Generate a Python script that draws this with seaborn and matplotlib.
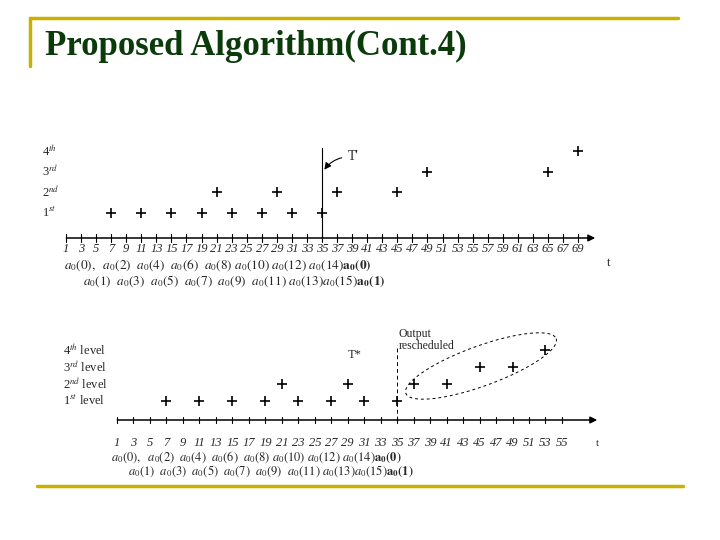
import matplotlib
matplotlib.use("Agg")
import matplotlib.pyplot as plt
import seaborn as sns
import numpy as np
import pandas as pd

sns.set_style("white")
plt.rcParams['font.family'] = ['Liberation Serif', 'DejaVu Serif']
plt.rcParams['mathtext.fontset'] = 'stix'

# data
top_t = [7, 11, 15, 19, 23, 27, 31, 35, 21, 29, 37, 45, 49, 65, 69]
top_level = [1, 1, 1, 1, 1, 1, 1, 1, 2, 2, 2, 2, 3, 3, 4]
top_ticks = list(range(1, 70, 2))
top_level_labels = ["1$^{st}$", "2$^{nd}$", "3$^{rd}$", "4$^{th}$"]

bot_t = [7, 11, 15, 19, 23, 27, 31, 35, 21, 29, 37, 41, 45, 49, 53]
bot_level = [1, 1, 1, 1, 1, 1, 1, 1, 2, 2, 2, 2, 3, 3, 4]
bot_ticks = list(range(1, 56, 2))
bot_level_labels = ["1$^{st}$ level", "2$^{nd}$ level", "3$^{rd}$ level", "4$^{th}$ level"]

row1 = r"$a_0(0),\ \ a_0(2)\ \ a_0(4)\ \ a_0(6)\ \ a_0(8)\ a_0(10)\ a_0(12)\ a_0(14)\mathbf{a_0(0)}$"
row2 = r"$a_0(1)\ \ a_0(3)\ \ a_0(5)\ \ a_0(7)\ \ a_0(9)\ \ a_0(11)\ a_0(13)a_0(15)\mathbf{a_0(1)}$"

W, H = 720, 540
fig = plt.figure(figsize=(7.2, 5.4), dpi=100)

def fig_ax(x0, y0, x1, y1):
    return fig.add_axes([x0 / W, 1 - y1 / H, (x1 - x0) / W, (y1 - y0) / H])

# slide frame
frame = fig.add_axes([0, 0, 1, 1]); frame.set_xlim(0, W); frame.set_ylim(H, 0); frame.axis('off')
gold = "#C9B100"
frame.plot([30, 678], [18, 18], color=gold, lw=2.5)
frame.plot([30, 30], [18, 66], color=gold, lw=2.5)
frame.plot([37, 683], [486, 486], color=gold, lw=2.5)
frame.text(45, 46, "Proposed Algorithm(Cont.4)", fontsize=25, fontweight='bold', color='#0B3B0B', va='center')

def draw(axpx, x_px0, scale, lvl_px1, lvl_sp, axis_py, ts, lv, ticks, lab, arrow_end, labx):
    x0, y0, x1, y1 = axpx
    ax = fig_ax(*axpx)
    ax.set_xlim(1 + (x0 - x_px0) / scale, 1 + (x1 - x_px0) / scale)
    ax.set_ylim(1 - (y1 - lvl_px1) / lvl_sp, 1 + (lvl_px1 - y0) / lvl_sp)
    ax.axis('off')
    df = pd.DataFrame({"t": ts, "level": lv})
    sns.scatterplot(data=df, x="t", y="level", marker="+", s=45, color="black", linewidths=1.2, ax=ax, legend=False)
    yax = 1 - (axis_py - lvl_px1) / lvl_sp
    xend = 1 + (arrow_end - x_px0) / scale
    ax.annotate("", xy=(xend, yax), xytext=(ticks[0] - 0.3, yax),
                arrowprops=dict(arrowstyle="-|>", color="black", lw=1.1, mutation_scale=10))
    for t in ticks:
        ax.plot([t, t], [yax - 0.2, yax + 0.2], color="black", lw=0.8)
    for i, l in enumerate(lab):
        ax.text(labx, i + 1, l, fontsize=9, ha='left', va='center')
    return ax, yax

# top diagram
ax1, yax1 = draw((40, 130, 610, 300), 66, 7.53, 213, 20.7, 238, top_t, top_level,
                 top_ticks, top_level_labels, 598, -2.2)
dy = 1 / 20.7
for t in top_ticks:
    ax1.text(t, yax1 - 11 * dy, str(t), fontsize=9, style='italic', ha='center', va='center')
ax1.text(73.0, yax1 - 25 * dy, "t", fontsize=9, ha='center', va='center')
ax1.text(0.7, yax1 - 27 * dy, row1, fontsize=9.5, ha='left', va='center')
ax1.text(3.2, yax1 - 43 * dy, row2, fontsize=9.5, ha='left', va='center')
ax1.plot([35, 35], [yax1, 1 + (213 - 148) / 20.7], color="black", lw=0.8)
ax1.annotate("T'", xy=(35.1, 1 + (213 - 172) / 20.7), xytext=(38.4, 1 + (213 - 157) / 20.7),
             fontsize=10, va='center',
             arrowprops=dict(arrowstyle="-|>", color="black", lw=0.8, connectionstyle="arc3,rad=0.3"))

# bottom diagram
ax2, yax2 = draw((60, 320, 610, 490), 117, 8.24, 401, 17, 420, bot_t, bot_level,
                 bot_ticks, bot_level_labels, 600, -5.6)
dy = 1 / 17
for t in bot_ticks:
    ax2.text(t, yax2 - 23 * dy, str(t), fontsize=9, style='italic', ha='center', va='center')
ax2.text(59.3, yax2 - 23 * dy, "t", fontsize=8, ha='center', va='center')
ax2.text(0.3, yax2 - 37 * dy, row1, fontsize=9, ha='left', va='center')
ax2.text(2.3, yax2 - 51 * dy, row2, fontsize=9, ha='left', va='center')
ax2.plot([35, 35], [yax2, 1 + (401 - 345) / 17], color="black", lw=0.7, ls=(0, (4, 3)))
ax2.text(29.8, 1 + (401 - 355) / 17, "T*", fontsize=9, ha='center', va='center')
ax2.text(35.2, 1 + (401 - 340) / 17, "Output\nrescheduled", fontsize=8.5, ha='left', va='center', linespacing=0.95)
th = np.linspace(0, 2 * np.pi, 200)
ang = np.deg2rad(-20)
ex = 80 * np.cos(th); ey = 20 * np.sin(th)
px = 481 + ex * np.cos(ang) - ey * np.sin(ang)
py = 366 + ex * np.sin(ang) + ey * np.cos(ang)
ax2.plot(1 + (px - 117) / 8.24, 1 + (401 - py) / 17, color="black", lw=0.7, ls=(0, (3, 3)))

fig.savefig("out.png", dpi=100)
